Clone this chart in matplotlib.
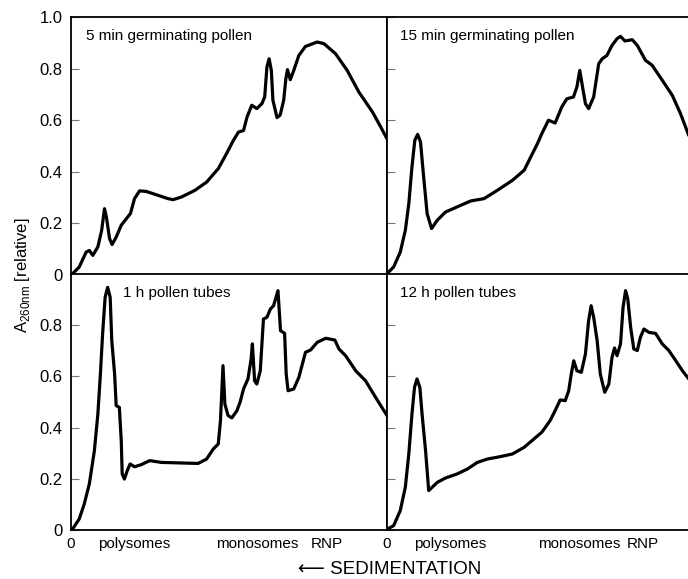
import numpy as np
import matplotlib.pyplot as plt

plt.rcParams['font.family'] = ['Liberation Sans', 'DejaVu Sans']

# sedimentation profiles, x = relative position across gradient (0..1), y = A260 relative
x_5min = [0, 0.005, 0.026, 0.048, 0.058, 0.069, 0.085, 0.097, 0.106, 0.112, 0.122, 0.130,
          0.143, 0.159, 0.175, 0.188, 0.201, 0.217, 0.238, 0.275, 0.307, 0.323, 0.349, 0.392,
          0.429, 0.466, 0.492, 0.514, 0.530, 0.546, 0.557, 0.572, 0.588, 0.604, 0.613, 0.620,
          0.627, 0.634, 0.639, 0.652, 0.662, 0.673, 0.680, 0.685, 0.694, 0.705, 0.721, 0.742,
          0.779, 0.800, 0.837, 0.874, 0.911, 0.954, 0.980, 1.0]
y_5min = [0, 0.005, 0.031, 0.089, 0.095, 0.076, 0.109, 0.173, 0.257, 0.225, 0.141, 0.118,
          0.147, 0.193, 0.218, 0.238, 0.296, 0.326, 0.324, 0.309, 0.296, 0.292, 0.302, 0.328,
          0.360, 0.412, 0.470, 0.522, 0.554, 0.560, 0.612, 0.658, 0.645, 0.664, 0.690, 0.806,
          0.838, 0.793, 0.677, 0.610, 0.620, 0.677, 0.761, 0.796, 0.757, 0.793, 0.851, 0.886,
          0.903, 0.897, 0.858, 0.793, 0.709, 0.632, 0.574, 0.528]

x_15min = [0, 0.021, 0.042, 0.058, 0.069, 0.079, 0.088, 0.097, 0.106, 0.116, 0.127, 0.141,
           0.159, 0.185, 0.222, 0.265, 0.307, 0.349, 0.397, 0.434, 0.460, 0.476, 0.490, 0.511,
           0.532, 0.553, 0.569, 0.590, 0.601, 0.610, 0.617, 0.628, 0.638, 0.654, 0.670, 0.681,
           0.696, 0.712, 0.728, 0.739, 0.753, 0.776, 0.792, 0.818, 0.839, 0.871, 0.903, 0.929,
           0.955]
y_15min = [0.005, 0.031, 0.089, 0.173, 0.276, 0.419, 0.522, 0.545, 0.516, 0.380, 0.238, 0.180,
           0.212, 0.244, 0.264, 0.287, 0.296, 0.328, 0.367, 0.406, 0.470, 0.509, 0.548, 0.600,
           0.589, 0.651, 0.683, 0.690, 0.729, 0.793, 0.742, 0.664, 0.645, 0.690, 0.819, 0.838,
           0.851, 0.890, 0.916, 0.925, 0.907, 0.912, 0.890, 0.832, 0.813, 0.755, 0.696, 0.625,
           0.541]

x_1h = [0, 0.005, 0.026, 0.042, 0.058, 0.074, 0.085, 0.093, 0.100, 0.108, 0.116, 0.124,
        0.129, 0.138, 0.143, 0.153, 0.159, 0.162, 0.169, 0.178, 0.187, 0.201, 0.222, 0.249,
        0.286, 0.402, 0.429, 0.450, 0.466, 0.473, 0.481, 0.487, 0.497, 0.509, 0.525, 0.535,
        0.546, 0.560, 0.570, 0.574, 0.581, 0.588, 0.599, 0.609, 0.620, 0.631, 0.641, 0.655,
        0.663, 0.676, 0.681, 0.687, 0.705, 0.721, 0.742, 0.758, 0.779, 0.806, 0.835, 0.848,
        0.869, 0.901, 0.932, 0.964, 1.0]
y_1h = [0, 0.004, 0.043, 0.102, 0.180, 0.310, 0.453, 0.609, 0.766, 0.909, 0.948, 0.909,
        0.740, 0.609, 0.486, 0.479, 0.349, 0.219, 0.199, 0.232, 0.258, 0.247, 0.255, 0.271,
        0.264, 0.260, 0.277, 0.316, 0.336, 0.427, 0.642, 0.492, 0.447, 0.438, 0.466, 0.499,
        0.551, 0.590, 0.668, 0.727, 0.583, 0.570, 0.622, 0.824, 0.831, 0.863, 0.876, 0.935,
        0.779, 0.768, 0.609, 0.544, 0.551, 0.596, 0.694, 0.703, 0.733, 0.749, 0.742, 0.707,
        0.681, 0.622, 0.583, 0.518, 0.447]

x_12h = [0, 0.021, 0.042, 0.058, 0.069, 0.079, 0.087, 0.095, 0.104, 0.111, 0.122, 0.132,
         0.143, 0.159, 0.185, 0.222, 0.254, 0.286, 0.317, 0.360, 0.397, 0.434, 0.471, 0.490,
         0.516, 0.532, 0.548, 0.564, 0.575, 0.583, 0.591, 0.601, 0.615, 0.628, 0.638, 0.646,
         0.654, 0.665, 0.675, 0.689, 0.702, 0.712, 0.720, 0.728, 0.739, 0.747, 0.755, 0.762,
         0.771, 0.781, 0.792, 0.802, 0.813, 0.829, 0.850, 0.871, 0.892, 0.914, 0.935, 0.955]
y_12h = [0.003, 0.017, 0.076, 0.167, 0.297, 0.453, 0.557, 0.590, 0.557, 0.453, 0.310, 0.154,
         0.167, 0.186, 0.203, 0.219, 0.238, 0.264, 0.277, 0.287, 0.297, 0.323, 0.362, 0.382,
         0.427, 0.466, 0.508, 0.505, 0.544, 0.609, 0.661, 0.622, 0.616, 0.688, 0.818, 0.876,
         0.831, 0.740, 0.609, 0.538, 0.570, 0.674, 0.711, 0.681, 0.727, 0.870, 0.935, 0.902,
         0.792, 0.707, 0.701, 0.753, 0.785, 0.772, 0.768, 0.727, 0.701, 0.661, 0.622, 0.590]

titles = ['5 min germinating pollen', '15 min germinating pollen',
          '1 h pollen tubes', '12 h pollen tubes']
title_x = [0.047, 0.042, 0.164, 0.042]
series = [(x_5min, y_5min), (x_15min, y_15min), (x_1h, y_1h), (x_12h, y_12h)]

ytick_top = [0, 0.2, 0.4, 0.6, 0.8, 1.0]
ytick_bottom = [0, 0.2, 0.4, 0.6, 0.8]
ytick_text = ['0', '0.2', '0.4', '0.6', '0.8', '1.0']
xtick_pos = [0, 0.2, 0.59, 0.81]
xtick_pos_r = [0, 0.2, 0.608, 0.808]
xtick_text = ['0', 'polysomes', 'monosomes', 'RNP']

fig = plt.figure(figsize=(6.88, 5.79), dpi=100)
W, H = 688, 579
# panel boxes in pixels: left, top, width, height
boxes = [(71, 17, 316, 258), (387, 17, 316, 258),
         (71, 274, 316, 256), (387, 274, 316, 256)]

for i, (bx, by, bw, bh) in enumerate(boxes):
    ax = fig.add_axes([bx / W, 1 - (by + bh) / H, bw / W, bh / H])
    xs, ys = series[i]
    ax.plot(xs, ys, color='black', lw=2.3, solid_joinstyle='round', solid_capstyle='round')
    ax.set_xlim(0, 1)
    ax.set_ylim(0, 1.0)
    for s in ax.spines.values():
        s.set_linewidth(1.3)
    ax.text(title_x[i], 0.926, titles[i], transform=ax.transAxes, fontsize=11, va='center')

    top = i < 2
    ax.set_yticks(ytick_top if top else ytick_bottom)
    if i % 2 == 0:
        ax.set_yticklabels(ytick_text if top else ytick_text[:5], fontsize=12)
    else:
        ax.set_yticklabels([])
    ax.tick_params(axis='y', direction='in', length=6, width=0.8, color='#777777', pad=6)

    if top:
        ax.set_xticks([])
    else:
        ax.set_xticks(xtick_pos if i == 2 else xtick_pos_r)
        ax.set_xticklabels(xtick_text, fontsize=11)
        ax.tick_params(axis='x', length=0, pad=5)

fig.text(0.032, 1 - 275 / H, r'A$_{\mathregular{260nm}}$ [relative]', rotation=90,
         fontsize=12, ha='center', va='center')
fig.text(298 / W, 1 - 570 / H, '\u27f5 SEDIMENTATION', fontsize=13.5,
         ha='left', va='center')

fig.savefig('out.png', dpi=100)
